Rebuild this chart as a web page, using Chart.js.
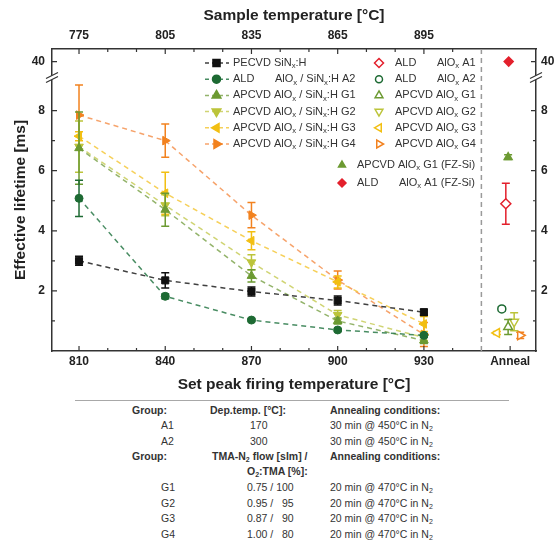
<!DOCTYPE html>
<html>
<head>
<meta charset="utf-8">
<script src="https://cdn.jsdelivr.net/npm/chart.js@4.4.1/dist/chart.umd.min.js"></script>
<style>
  html, body { margin: 0; padding: 0; background: #fff; }
  #wrap { position: relative; width: 559px; height: 546px; font-family: 'Liberation Sans', Arial, sans-serif; color: #333; }
  #chartBox { position: absolute; left: 0; top: 0; width: 559px; height: 400px; }
  .rule { position: absolute; left: 75px; width: 434px; top: 400px; border-top: 1.5px solid #a8a8a8; }
  .t { position: absolute; font-size: 10.5px; line-height: 13px; white-space: pre; transform: translateY(-50%); }
  .b { font-weight: bold; }
  sub { font-size: 7px; vertical-align: -2px; line-height: 0; }
</style>
</head>
<body>
<div id="wrap">
  <div id="chartBox"><canvas id="lifetimeChart"></canvas></div>
  <div class="rule"></div>

  <!-- group table under the chart -->
  <span class="t b" style="left:132px; top:410px">Group:</span>
  <span class="t b" style="left:210px; top:410px">Dep.temp. [°C]:</span>
  <span class="t b" style="left:330px; top:410px">Annealing conditions:</span>
  <span class="t" style="left:161px; top:425px">A1</span>
  <span class="t" style="left:250px; top:425px">170</span>
  <span class="t" style="left:330px; top:425px">30 min @ 450°C in N<sub>2</sub></span>
  <span class="t" style="left:161px; top:441px">A2</span>
  <span class="t" style="left:250px; top:441px">300</span>
  <span class="t" style="left:330px; top:441px">30 min @ 450°C in N<sub>2</sub></span>
  <span class="t b" style="left:132px; top:456px">Group:</span>
  <span class="t b" style="left:212px; top:456px">TMA-N<sub>2</sub> flow [slm] /</span>
  <span class="t b" style="left:330px; top:456px">Annealing conditions:</span>
  <span class="t b" style="left:247px; top:471px">O<sub>2</sub>:TMA [%]:</span>
  <span class="t" style="left:161px; top:487px">G1</span>
  <span class="t" style="left:247px; top:487px">0.75 / 100</span>
  <span class="t" style="left:330px; top:487px">20 min @ 470°C in N<sub>2</sub></span>
  <span class="t" style="left:161px; top:503px">G2</span>
  <span class="t" style="left:247px; top:503px">0.95 /   95</span>
  <span class="t" style="left:330px; top:503px">20 min @ 470°C in N<sub>2</sub></span>
  <span class="t" style="left:161px; top:518px">G3</span>
  <span class="t" style="left:247px; top:518px">0.87 /   90</span>
  <span class="t" style="left:330px; top:518px">20 min @ 470°C in N<sub>2</sub></span>
  <span class="t" style="left:161px; top:534px">G4</span>
  <span class="t" style="left:247px; top:534px">1.00 /   80</span>
  <span class="t" style="left:330px; top:534px">20 min @ 470°C in N<sub>2</sub></span>
</div>

<script>
// set peak firing temperature (bottom axis) and matching sample temperature (top axis)
const firingTemps = [810, 840, 870, 900, 930];
const sampleTemps = [775, 805, 835, 865, 895];
const annealLabel = 'Anneal';
const annealX = 960;
const separatorX = 950;

// effective lifetime [ms] after firing, with error bars
const pecvd    = [3.0, 2.35, 1.98, 1.68, 1.29];
const pecvdErr = [0.15, 0.25, 0.15, 0.15, 0.1];
const aldA2    = [5.08, 1.82, 1.03, 0.7, 0.52];
const aldA2Err = [0.6, 0.08, 0.05, 0.05, 0.05];
const apG1     = [6.75, 4.7, 2.5, 1.0, 0.35];
const apG1Err  = [1.2, 0.55, 0.2, 0.1, 0.1];
const apG2     = [6.8, 4.85, 2.95, 1.2, 0.45];
const apG2Err  = [0.85, 0.35, 0.25, 0.15, 0.1];
const apG3     = [7.15, 5.25, 3.67, 2.3, 0.9];
const apG3Err  = [0.15, 0.7, 0.3, 0.2, 0.25];
const apG4     = [7.85, 7.0, 4.52, 2.36, 0.55];
const apG4Err  = [1.0, 0.55, 0.42, 0.3, 0.4];

// lifetime after annealing only (no firing)
const annealGroups = ['A1', 'A2', 'G1', 'G2', 'G3', 'G4', 'G1 FZ', 'A1 FZ'];
const annealValues = [4.9, 1.4, 0.8, 0.97, 0.6, 0.52, 6.45, 40];
const annealErrors = [0.68, 0.07, 0.25, 0.3, 0.05, 0.1, 0.08, 0];

// y axis is broken between 9 and 40
const yTickLabels = [2, 4, 6, 8, 40];
const yMinorTicks = [1, 3, 5, 7];
const BREAK_AT = 9.1;
const TOP_POS = 9.63;
function toAxis(v) { return v > 20 ? TOP_POS + (v - 40) * 0.05 : v; }
function fromAxis(v) { return v > BREAK_AT ? Math.round(40 + (v - TOP_POS) / 0.05) : v; }

const FONT = "'Liberation Sans', Arial, sans-serif";
Chart.defaults.font.family = FONT;

const lineSeries = [
  { name: ['PECVD SiN_x:H'], values: pecvd, errors: pecvdErr, color: '#111111', line: 'rgba(30,30,30,0.85)', style: 'rect', rot: 0, r: 5 },
  { name: ['ALD', 'AlO_x / SiN_x:H A2'], values: aldA2, errors: aldA2Err, color: '#1d6a33', line: 'rgba(40,120,70,0.85)', style: 'circle', rot: 0, r: 4 },
  { name: ['APCVD AlO_x / SiN_x:H G1'], values: apG1, errors: apG1Err, color: '#6c9a32', line: 'rgba(120,160,70,0.8)', style: 'triangle', rot: 0, r: 5 },
  { name: ['APCVD AlO_x / SiN_x:H G2'], values: apG2, errors: apG2Err, color: '#bcc43a', line: 'rgba(200,205,90,0.85)', style: 'triangle', rot: 180, r: 5 },
  { name: ['APCVD AlO_x / SiN_x:H G3'], values: apG3, errors: apG3Err, color: '#f2bf12', line: 'rgba(244,200,60,0.85)', style: 'triangle', rot: 270, r: 5 },
  { name: ['APCVD AlO_x / SiN_x:H G4'], values: apG4, errors: apG4Err, color: '#f2821f', line: 'rgba(244,140,70,0.8)', style: 'triangle', rot: 90, r: 5 }
];

// marker styles for the anneal points (same order as annealGroups)
const annealStyle = [
  { name: ['ALD', 'AlO_x A1'], color: '#e3202c', style: 'rectRot', rot: 0, r: 5, filled: false, dx: -1.5 },
  { name: ['ALD', 'AlO_x A2'], color: '#1d6a33', style: 'circle', rot: 0, r: 4, filled: false, dx: -2.9 },
  { name: ['APCVD AlO_x G1'], color: '#6c9a32', style: 'triangle', rot: 0, r: 5, filled: false, dx: -0.7 },
  { name: ['APCVD AlO_x G2'], color: '#bcc43a', style: 'triangle', rot: 180, r: 5, filled: false, dx: 1.4 },
  { name: ['APCVD AlO_x G3'], color: '#f2bf12', style: 'triangle', rot: 270, r: 5, filled: false, dx: -4.6 },
  { name: ['APCVD AlO_x G4'], color: '#f2821f', style: 'triangle', rot: 90, r: 5, filled: false, dx: 3.5 },
  { name: ['APCVD AlO_x G1 (FZ-Si)'], color: '#6c9a32', style: 'triangle', rot: 0, r: 4.5, filled: true, dx: -0.7 },
  { name: ['ALD', 'AlO_x A1 (FZ-Si)'], color: '#e3202c', style: 'rectRot', rot: 0, r: 4.5, filled: true, dx: -0.5 }
];

const datasets = [];
lineSeries.forEach(s => {
  datasets.push({
    data: firingTemps.map((t, i) => ({ x: t, y: s.values[i] })),
    errors: s.errors,
    errColor: s.color,
    showLine: true,
    borderColor: s.line,
    borderWidth: 1.5,
    borderDash: [5, 4],
    pointStyle: s.style,
    rotation: s.rot,
    pointRadius: s.r,
    pointBackgroundColor: s.color,
    pointBorderColor: s.color,
    pointBorderWidth: 1
  });
});
annealGroups.forEach((g, i) => {
  const st = annealStyle[i];
  datasets.push({
    data: [{ x: annealX + st.dx, y: toAxis(annealValues[i]) }],
    errors: [annealErrors[i]],
    errColor: st.color,
    showLine: false,
    pointStyle: st.style,
    rotation: st.rot,
    pointRadius: st.r,
    pointBackgroundColor: st.filled ? st.color : '#ffffff',
    pointBorderColor: st.color,
    pointBorderWidth: 1.5
  });
});

function drawMarker(ctx, style, rot, x, y, r, color, filled) {
  ctx.save();
  ctx.translate(x, y);
  ctx.rotate(rot * Math.PI / 180);
  ctx.beginPath();
  if (style === 'circle') {
    ctx.arc(0, 0, r, 0, Math.PI * 2);
  } else if (style === 'rect') {
    const s = r * Math.SQRT1_2;
    ctx.rect(-s, -s, 2 * s, 2 * s);
  } else if (style === 'rectRot') {
    ctx.moveTo(0, -r); ctx.lineTo(r, 0); ctx.lineTo(0, r); ctx.lineTo(-r, 0); ctx.closePath();
  } else {
    for (let k = 0; k < 3; k++) {
      const a = k * 2 * Math.PI / 3;
      ctx.lineTo(Math.sin(a) * r, -Math.cos(a) * r);
    }
    ctx.closePath();
  }
  ctx.fillStyle = filled ? color : '#ffffff';
  ctx.fill();
  ctx.strokeStyle = color;
  ctx.lineWidth = 1.5;
  ctx.stroke();
  ctx.restore();
}

// text with "_x" subscripts
function drawRich(ctx, text, x, y, size) {
  let cx = x;
  text.split(/(_\w)/).forEach(seg => {
    if (!seg) return;
    if (seg[0] === '_') {
      ctx.font = (size * 0.7) + 'px ' + FONT;
      ctx.fillText(seg[1], cx, y + size * 0.3);
      cx += ctx.measureText(seg[1]).width;
    } else {
      ctx.font = size + 'px ' + FONT;
      ctx.fillText(seg, cx, y);
      cx += ctx.measureText(seg).width;
    }
  });
}

const errorBars = {
  id: 'errorBars',
  beforeDatasetDraw(chart, args) {
    const ds = chart.data.datasets[args.index];
    if (!ds.errors) return;
    const y = chart.scales.y;
    const ctx = chart.ctx;
    ctx.save();
    ctx.strokeStyle = ds.errColor;
    ctx.lineWidth = 1.5;
    args.meta.data.forEach((pt, i) => {
      const e = ds.errors[i];
      if (!e) return;
      const v = ds.data[i].y;
      const top = y.getPixelForValue(v + e);
      const bot = y.getPixelForValue(Math.max(v - e, 0));
      ctx.beginPath();
      ctx.moveTo(pt.x, top); ctx.lineTo(pt.x, bot);
      ctx.moveTo(pt.x - 4, top); ctx.lineTo(pt.x + 4, top);
      ctx.moveTo(pt.x - 4, bot); ctx.lineTo(pt.x + 4, bot);
      ctx.stroke();
    });
    ctx.restore();
  }
};

const frameExtras = {
  id: 'frameExtras',
  beforeDatasetsDraw(chart) {
    const { ctx, chartArea: a } = chart;
    const sx = chart.scales.x.getPixelForValue(separatorX);
    ctx.save();
    ctx.strokeStyle = '#9a9a9a';
    ctx.lineWidth = 1.5;
    ctx.setLineDash([5, 4]);
    ctx.beginPath(); ctx.moveTo(sx, a.top); ctx.lineTo(sx, a.bottom); ctx.stroke();
    ctx.restore();
  },
  afterDraw(chart) {
    const { ctx, chartArea: a, scales } = chart;
    ctx.save();
    ctx.strokeStyle = '#333';
    ctx.lineWidth = 1.2;
    // inward ticks, bottom and top
    const xs = scales.x;
    for (let v = 810; v <= 960; v += 10) {
      if (v === 950) continue;
      const major = (v <= 930 && (v - 810) % 30 === 0) || v === annealX;
      const px = xs.getPixelForValue(v);
      const len = major ? 5 : 3;
      ctx.beginPath();
      ctx.moveTo(px, a.bottom); ctx.lineTo(px, a.bottom - len);
      if (v < 950) { ctx.moveTo(px, a.top); ctx.lineTo(px, a.top + len); }
      ctx.stroke();
    }
    // inward ticks, left and right
    const ys = scales.y;
    const yTicks = yTickLabels.map(v => ({ v: toAxis(v), len: 5 })).concat(yMinorTicks.map(v => ({ v, len: 3 })));
    yTicks.forEach(t => {
      const py = ys.getPixelForValue(t.v);
      ctx.beginPath();
      ctx.moveTo(a.left, py); ctx.lineTo(a.left + t.len, py);
      ctx.moveTo(a.right, py); ctx.lineTo(a.right - t.len, py);
      ctx.stroke();
    });
    // axis break marks
    const by = ys.getPixelForValue(BREAK_AT);
    [a.left, a.right].forEach(bx => {
      ctx.fillStyle = '#fff';
      ctx.beginPath();
      ctx.moveTo(bx - 6, by + 1); ctx.lineTo(bx + 6, by - 5);
      ctx.lineTo(bx + 6, by - 1); ctx.lineTo(bx - 6, by + 5);
      ctx.closePath(); ctx.fill();
      ctx.lineWidth = 1.2;
      ctx.beginPath();
      ctx.moveTo(bx - 6, by + 1); ctx.lineTo(bx + 6, by - 5);
      ctx.moveTo(bx - 6, by + 5); ctx.lineTo(bx + 6, by - 1);
      ctx.stroke();
    });
    ctx.restore();

    // legend
    ctx.save();
    ctx.textBaseline = 'middle';
    ctx.fillStyle = '#333';
    lineSeries.forEach((s, i) => {
      const y = 63 + i * 16.2;
      ctx.strokeStyle = s.line;
      ctx.lineWidth = 1.5;
      ctx.setLineDash([4, 3]);
      ctx.beginPath(); ctx.moveTo(205, y); ctx.lineTo(229, y); ctx.stroke();
      ctx.setLineDash([]);
      drawMarker(ctx, s.style, s.rot, 216.5, y, s.r, s.color, true);
      ctx.fillStyle = '#333';
      drawRich(ctx, s.name[0], 233, y, 11);
      if (s.name[1]) drawRich(ctx, s.name[1], 275, y, 11);
    });
    annealStyle.forEach((s, i) => {
      const fz = i >= 6;
      const y = fz ? 165 + (i - 6) * 18 : 63 + i * 16.2;
      const mx = fz ? 342 : 379;
      const tx = fz ? 357 : 395;
      drawMarker(ctx, s.style, s.rot, mx, y, s.r - 0.5, s.color, s.filled);
      ctx.fillStyle = '#333';
      drawRich(ctx, s.name[0], tx, y, 11);
      if (s.name[1]) drawRich(ctx, s.name[1], tx + 42, y, 11);
    });
    ctx.restore();
  }
};

const tickFont = { family: FONT, size: 12, weight: 'bold' };
const titleFont = { family: FONT, size: 15.5, weight: 'bold' };
const noGrid = { display: true, drawOnChartArea: false, drawTicks: false };
const frame = { display: true, color: '#333', width: 1.5 };

new Chart(document.getElementById('lifetimeChart'), {
  type: 'line',
  data: { datasets },
  options: {
    responsive: true,
    maintainAspectRatio: false,
    animation: false,
    layout: { padding: { left: 9, right: 0, top: 0, bottom: 0 } },
    plugins: { legend: { display: false }, tooltip: { enabled: false } },
    scales: {
      x: {
        type: 'linear', position: 'bottom', min: 800.6, max: 969,
        afterBuildTicks: s => { s.ticks = firingTemps.concat([annealX]).map(v => ({ value: v })); },
        afterFit: s => { s.height = 49; },
        ticks: { font: tickFont, color: '#222', padding: 3, maxRotation: 0, autoSkip: false,
          callback: v => (v === annealX ? annealLabel : String(v)) },
        grid: noGrid, border: frame,
        title: { display: true, text: 'Set peak firing temperature [°C]', font: titleFont, color: '#222', padding: { top: 5.5, bottom: 5.5 } }
      },
      x2: {
        type: 'linear', position: 'top', min: 800.6, max: 969,
        afterBuildTicks: s => { s.ticks = firingTemps.map(v => ({ value: v })); },
        afterFit: s => { s.height = 49; },
        ticks: { font: tickFont, color: '#222', padding: 6, maxRotation: 0, autoSkip: false,
          callback: v => String(sampleTemps[firingTemps.indexOf(v)]) },
        grid: noGrid, border: frame,
        title: { display: true, text: 'Sample temperature [°C]', font: titleFont, color: '#222', padding: { top: 6.5, bottom: 0 } }
      },
      y: {
        type: 'linear', position: 'left', min: 0, max: 10.05,
        afterBuildTicks: s => { s.ticks = yTickLabels.map(v => ({ value: toAxis(v) })); },
        afterFit: s => { s.width = 43; },
        ticks: { font: tickFont, color: '#222', padding: 7, autoSkip: false, callback: v => String(fromAxis(v)) },
        grid: noGrid, border: frame,
        title: { display: true, text: 'Effective lifetime [ms]', font: titleFont, color: '#222', padding: { top: 2.5, bottom: 0 } }
      },
      y2: {
        type: 'linear', position: 'right', min: 0, max: 10.05,
        afterBuildTicks: s => { s.ticks = yTickLabels.map(v => ({ value: toAxis(v) })); },
        afterFit: s => { s.width = 23; },
        ticks: { font: tickFont, color: '#222', padding: 5, autoSkip: false, callback: v => String(fromAxis(v)) },
        grid: noGrid, border: frame
      }
    }
  },
  plugins: [errorBars, frameExtras]
});
</script>
</body>
</html>
